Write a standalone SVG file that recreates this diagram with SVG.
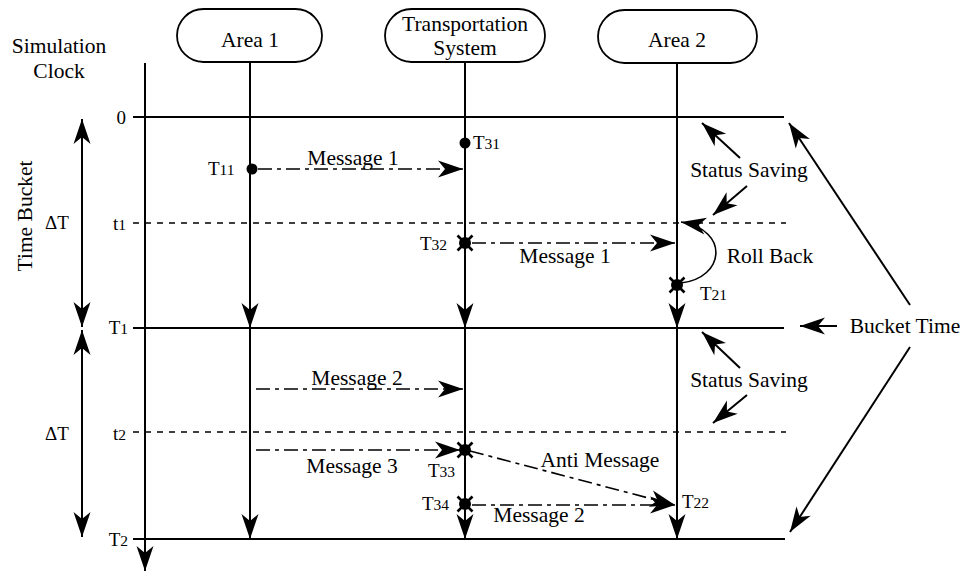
<svg xmlns="http://www.w3.org/2000/svg" xmlns:xlink="http://www.w3.org/1999/xlink" width="967" height="573" viewBox="0 0 967 573">
  <style>
    text { font-family: "Liberation Serif", "Times New Roman", serif; fill: #000; }
    .lbl { font-size: 21.5px; }
    .tk { font-size: 19px; }
    .sub { font-size: 15.5px; }
    .box { fill: #fff; stroke: #000; stroke-width: 1.8; }
    .ln { fill: none; stroke: #000; stroke-width: 2; }
    .thin { fill: none; stroke: #000; stroke-width: 1.6; }
    .dash { fill: none; stroke: #000; stroke-width: 1.3; stroke-dasharray: 6 6; }
    .dd { fill: none; stroke: #000; stroke-width: 1.6; stroke-dasharray: 14 5 4 5; }
    .arr { marker-end: url(#ah); }
  </style>
  <defs>
    <marker id="ah" viewBox="-27 -10 29 20" refX="0" refY="0" markerWidth="29" markerHeight="20" markerUnits="userSpaceOnUse" orient="auto-start-reverse">
      <path d="M0,0 L-25,-8.5 L-18,0 L-25,8.5 Z" fill="#000"/>
    </marker>
    <g id="xmark">
      <circle r="6" fill="#000"/>
      <path d="M-7.5,-7.5 L7.5,7.5 M-7.5,7.5 L7.5,-7.5" stroke="#000" stroke-width="2.6"/>
    </g>
  </defs>
  <rect width="967" height="573" fill="#fff"/>

  <!-- simulation clock axis and time grid -->
  <g id="clock">
    <text class="lbl" x="59" y="53" text-anchor="middle">Simulation</text>
    <text class="lbl" x="59" y="78" text-anchor="middle">Clock</text>
    <line class="ln arr" x1="145" y1="63" x2="145" y2="571"/>
    <line class="ln" x1="133" y1="117" x2="784" y2="117"/>
    <line class="dash" x1="133" y1="223" x2="786" y2="223"/>
    <line class="ln" x1="133" y1="328" x2="784" y2="328"/>
    <line class="dash" x1="133" y1="432" x2="786" y2="432"/>
    <line class="ln" x1="133" y1="539" x2="785" y2="539"/>
    <text class="tk" x="126" y="124" text-anchor="end">0</text>
    <text class="tk" x="126" y="230" text-anchor="end">t<tspan class="sub">1</tspan></text>
    <text class="tk" x="128" y="334" text-anchor="end">T<tspan class="sub">1</tspan></text>
    <text class="tk" x="126" y="440" text-anchor="end">t<tspan class="sub">2</tspan></text>
    <text class="tk" x="128" y="546" text-anchor="end">T<tspan class="sub">2</tspan></text>
  </g>

  <!-- time bucket span arrows -->
  <g id="time-bucket">
    <text class="lbl" transform="translate(32,216) rotate(-90)" text-anchor="middle">Time Bucket</text>
    <line class="ln" x1="82" y1="119" x2="82" y2="327" marker-start="url(#ah)" marker-end="url(#ah)"/>
    <line class="ln" x1="82" y1="330" x2="82" y2="537" marker-start="url(#ah)" marker-end="url(#ah)"/>
    <text class="tk" x="57" y="229" text-anchor="middle">ΔT</text>
    <text class="tk" x="57" y="440" text-anchor="middle">ΔT</text>
  </g>

  <!-- process nodes -->
  <g id="area1">
    <rect class="box" x="177" y="9" width="145" height="53" rx="26.5"/>
    <text class="lbl" x="250" y="47" text-anchor="middle">Area 1</text>
  </g>
  <g id="transport">
    <rect class="box" x="385" y="9" width="160" height="53" rx="26.5"/>
    <text class="lbl" x="465" y="31" text-anchor="middle">Transportation</text>
    <text class="lbl" x="465" y="55" text-anchor="middle">System</text>
  </g>
  <g id="area2">
    <rect class="box" x="598" y="10" width="159" height="53" rx="26.5"/>
    <text class="lbl" x="677" y="47" text-anchor="middle">Area 2</text>
  </g>

  <!-- lifelines, messages and pointers -->
  <g id="connectors">
    <line class="ln arr" x1="250" y1="62" x2="250" y2="328"/>
    <line class="ln arr" x1="250" y1="328" x2="250" y2="539"/>
    <line class="ln arr" x1="465" y1="62" x2="465" y2="328"/>
    <line class="ln arr" x1="465" y1="328" x2="465" y2="539"/>
    <line class="ln" x1="677" y1="63" x2="677" y2="290"/>
    <line class="ln arr" x1="677" y1="290" x2="677" y2="328"/>
    <line class="ln arr" x1="677" y1="328" x2="677" y2="539"/>

    <line class="dd arr" x1="258" y1="169" x2="463" y2="169"/>
    <line class="dd arr" x1="472" y1="243" x2="675" y2="243"/>
    <line class="dd arr" x1="256" y1="389" x2="463" y2="389"/>
    <line class="dd arr" x1="256" y1="450" x2="460" y2="450"/>
    <line class="dd arr" x1="470" y1="451" x2="675" y2="505"/>
    <line class="dd arr" x1="472" y1="505" x2="675" y2="505"/>

    <path class="thin arr" d="M681,283 C725,278 730,230 681,222"/>

    <line class="ln arr" x1="740" y1="158" x2="702" y2="123"/>
    <line class="ln arr" x1="747" y1="186" x2="713" y2="215"/>
    <line class="ln arr" x1="740" y1="368" x2="702" y2="332"/>
    <line class="ln arr" x1="747" y1="395" x2="713" y2="423"/>

    <line class="ln arr" x1="837" y1="326" x2="800" y2="326"/>
    <line class="ln arr" x1="910" y1="305" x2="789" y2="123"/>
    <line class="ln arr" x1="910" y1="347" x2="790" y2="532"/>
  </g>

  <!-- event markers -->
  <g id="events">
    <circle cx="252" cy="169" r="5.5"/>
    <circle cx="465" cy="143" r="5.5"/>
    <use xlink:href="#xmark" x="465" y="243"/>
    <use xlink:href="#xmark" x="677" y="285"/>
    <use xlink:href="#xmark" x="465" y="450"/>
    <use xlink:href="#xmark" x="465" y="504"/>
    <text class="tk" x="208" y="175">T<tspan class="sub">11</tspan></text>
    <text class="tk" x="473" y="149">T<tspan class="sub">31</tspan></text>
    <text class="tk" x="420" y="250">T<tspan class="sub">32</tspan></text>
    <text class="tk" x="700" y="300">T<tspan class="sub">21</tspan></text>
    <text class="tk" x="428" y="477">T<tspan class="sub">33</tspan></text>
    <text class="tk" x="422" y="510">T<tspan class="sub">34</tspan></text>
    <text class="tk" x="682" y="508">T<tspan class="sub">22</tspan></text>
  </g>

  <!-- annotations -->
  <g id="labels">
    <text class="lbl" x="353" y="165" text-anchor="middle">Message 1</text>
    <text class="lbl" x="565" y="263" text-anchor="middle">Message 1</text>
    <text class="lbl" x="357" y="385" text-anchor="middle">Message 2</text>
    <text class="lbl" x="352" y="473" text-anchor="middle">Message 3</text>
    <text class="lbl" x="600" y="467" text-anchor="middle">Anti Message</text>
    <text class="lbl" x="539" y="522" text-anchor="middle">Message 2</text>
    <text class="lbl" x="770" y="263" text-anchor="middle">Roll Back</text>
    <text class="lbl" x="749" y="177" text-anchor="middle">Status Saving</text>
    <text class="lbl" x="749" y="387" text-anchor="middle">Status Saving</text>
    <text class="lbl" x="905" y="333" text-anchor="middle">Bucket Time</text>
  </g>
</svg>
